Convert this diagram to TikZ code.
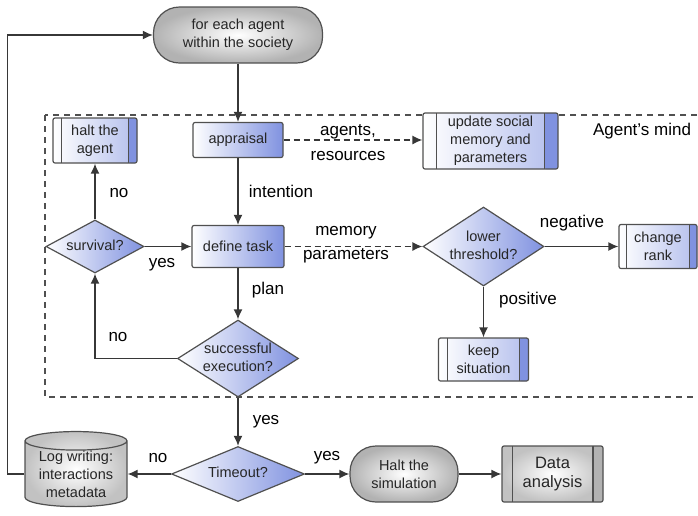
\documentclass[tikz,border=0pt]{standalone}
\usepackage{fontspec}
\setmainfont{Liberation Sans}
\usetikzlibrary{shapes.geometric,arrows.meta,calc}

\definecolor{procblue}{RGB}{128,146,224}
\definecolor{linegray}{RGB}{55,55,55}
\definecolor{boxgray}{RGB}{80,80,80}

\newcommand{\boxfont}{\fontsize{14.5}{18}\selectfont}
\newcommand{\bigboxfont}{\fontsize{16.5}{19}\selectfont}
\newcommand{\tagfont}{\fontsize{17}{20}\selectfont}
% text of a diamond, kept out of the shape's size
\newcommand{\dtext}[1]{\makebox[0pt]{\begin{tabular}{@{}c@{}}#1\end{tabular}}}

\tikzset{
  base/.style={draw=boxgray, line width=1.2, text=black!85, font=\boxfont, align=center, inner sep=0pt},
  terminal/.style={base, rectangle, rounded corners=26, inner color=white, outer color=black!30},
  process/.style={base, rectangle, rounded corners=2, left color=white, right color=procblue},
  subroutine/.style={base, rectangle, rounded corners=2, path picture={
      \fill[#1] ($(path picture bounding box.north west)!0.9!(path picture bounding box.north east)$)
        rectangle (path picture bounding box.south east);
      \draw[boxgray, line width=1.2] ($(path picture bounding box.north west)!0.1!(path picture bounding box.north east)$)
        -- ($(path picture bounding box.south west)!0.1!(path picture bounding box.south east)$);
      \draw[boxgray, line width=1.2] ($(path picture bounding box.north west)!0.9!(path picture bounding box.north east)$)
        -- ($(path picture bounding box.south west)!0.9!(path picture bounding box.south east)$);
    }},
  bluesub/.style={subroutine=procblue, left color=white, right color=procblue!60!white},
  graysub/.style={subroutine=black!30, inner color=white, outer color=black!24},
  decision/.style={base, diamond, aspect=1, left color=white, right color=procblue},
  store/.style={base, cylinder, shape border rotate=90, aspect=0.25, inner color=white, outer color=black!24},
  tag/.style={font=\tagfont, align=center, text=black},
  flow/.style={draw=linegray, line width=1.5, -{Latex[length=10,width=9]}},
  dashflow/.style={flow, line width=1.3, dash pattern=on 6pt off 4pt},
  mindframe/.style={draw=boxgray, line width=1.3, dash pattern=on 6pt off 5pt}
}

\begin{document}
\begin{tikzpicture}[x=1pt,y=1pt,yscale=-1]
\path[use as bounding box] (0,0) rectangle (698,515);

%Agent's mind frame
\draw[mindframe] (45,115) rectangle (705,397);

%Shapes
\node[terminal, minimum width=169, minimum height=56] (start) at (238,35) {for each agent\\within the society};
\node[process, minimum width=90, minimum height=35] (appr) at (238,140) {appraisal};
\node[bluesub, minimum width=84, minimum height=45] (halt) at (95,140.5) {halt the\\agent};
\node[bluesub, minimum width=135, minimum height=56] (upd) at (490.5,141) {update social\\memory and\\parameters};
\node[decision, minimum width=98, minimum height=53] (surv) at (95,246.5) {\dtext{survival?}};
\node[process, minimum width=92, minimum height=42] (task) at (238,246.5) {define task};
\node[decision, minimum width=121, minimum height=79] (thr) at (483.5,246.5) {\dtext{lower\\threshold?}};
\node[bluesub, minimum width=78, minimum height=44] (rank) at (658,246.5) {change\\rank};
\node[bluesub, minimum width=90, minimum height=43] (keep) at (483.5,359.5) {keep\\situation};
\node[decision, minimum width=121, minimum height=77] (succ) at (238,358.5) {\dtext{successful\\execution?}};
\node[decision, minimum width=133, minimum height=55] (tout) at (238,474) {\dtext{Timeout?}};
\node[store, minimum width=102, minimum height=75] (log) at (76,474) {Log writing:\\interactions\\metadata};
\node[terminal, minimum width=108, minimum height=56] (hsim) at (404,474) {Halt the\\simulation};
\node[graysub, font=\bigboxfont, minimum width=101, minimum height=56] (data) at (552.5,474) {Data\\analysis};

%Connectors
\draw[flow] (start) -- (appr);
\draw[flow] (appr) -- (task);
\draw[dashflow] (appr.east) -- (appr.east -| upd.west);
\draw[flow] (surv) -- (task);
\draw[flow] (surv) -- (halt);
\draw[dashflow] (task) -- (thr);
\draw[flow] (thr) -- (rank);
\draw[flow] (thr) -- (keep);
\draw[flow] (task) -- (succ);
\draw[flow] (succ.west) -| (surv.south);
\draw[flow] (succ) -- (tout);
\draw[flow] (tout) -- (log);
\draw[flow] (tout) -- (hsim);
\draw[flow] (hsim) -- (data);
\draw[flow] (log.west) -- ++(-17,0) |- (start.west);

% Text Nodes
\node[tag] at (348,143) {agents,\\[5pt]resources};
\node[tag] at (281,191) {intention};
\node[tag] at (119,193) {no};
\node[tag] at (346,245) {memory\\[4pt]parameters};
\node[tag] at (162,265) {yes};
\node[tag] at (572,223) {negative};
\node[tag] at (528,300) {positive};
\node[tag] at (268,290) {plan};
\node[tag] at (118,337) {no};
\node[tag] at (266,422) {yes};
\node[tag] at (158,458) {no};
\node[tag] at (327,458) {yes};
\node[tag] at (642,131) {Agent's mind};

\end{tikzpicture}
\end{document}
